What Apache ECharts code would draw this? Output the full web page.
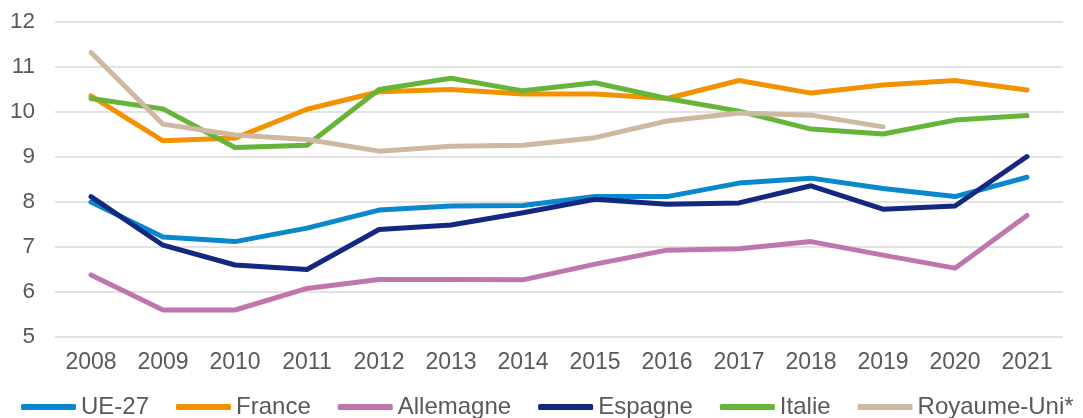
<!DOCTYPE html>
<html>
<head>
<meta charset="utf-8">
<script src="https://cdn.jsdelivr.net/npm/echarts@6/dist/echarts.min.js"></script>
<style>html,body{margin:0;padding:0;background:#fff}#c{width:1083px;height:418px}</style>
</head>
<body>
<div id="c"></div>
<script>
const years = ['2008','2009','2010','2011','2012','2013','2014','2015','2016','2017','2018','2019','2020','2021'];
const ue27 = [8.0, 7.22, 7.12, 7.42, 7.82, 7.91, 7.92, 8.12, 8.12, 8.42, 8.53, 8.3, 8.12, 8.55];
const france = [10.36, 9.36, 9.42, 10.06, 10.45, 10.5, 10.4, 10.4, 10.3, 10.7, 10.42, 10.6, 10.7, 10.49];
const allemagne = [6.38, 5.6, 5.6, 6.08, 6.28, 6.28, 6.27, 6.62, 6.93, 6.96, 7.12, 6.82, 6.53, 7.7];
const espagne = [8.12, 7.04, 6.6, 6.5, 7.39, 7.49, 7.76, 8.06, 7.95, 7.98, 8.36, 7.84, 7.91, 9.01];
const italie = [10.3, 10.07, 9.21, 9.26, 10.5, 10.75, 10.47, 10.65, 10.3, 10.02, 9.62, 9.51, 9.82, 9.92];
const royaumeUni = [11.32, 9.73, 9.49, 9.39, 9.13, 9.24, 9.26, 9.43, 9.8, 9.98, 9.93, 9.67, null, null];

const names = ['UE-27','France','Allemagne','Espagne','Italie','Royaume-Uni*'];
const datas = [ue27, france, allemagne, espagne, italie, royaumeUni];
const colors = ['#0a88cd','#f39200','#c076ad','#15287f','#67b43a','#cdb9a1'];

const chart = echarts.init(document.getElementById('c'), null, {renderer:'canvas'});
chart.setOption({
  animation: false,
  color: colors,
  textStyle: {fontFamily: 'Liberation Sans, Arial, sans-serif'},
  grid: {left: 55, right: 20, top: 22, bottom: 81, containLabel: false},
  legend: {
    top: 395, left: 21, padding: 0,
    itemWidth: 55, itemHeight: 6, itemGap: 27,
    icon: 'roundRect',
    textStyle: {fontSize: 24, color: '#595959'},
    data: names
  },
  xAxis: {
    type: 'category', data: years, boundaryGap: true,
    axisLine: {show: false}, axisTick: {show: false},
    axisLabel: {fontSize: 23, color: '#595959', margin: 14}
  },
  yAxis: {
    type: 'value', min: 5, max: 12, interval: 1,
    axisLine: {show: false}, axisTick: {show: false},
    axisLabel: {fontSize: 22.5, color: '#595959', margin: 20},
    splitLine: {lineStyle: {color: '#d9d9d9', width: 1.5}}
  },
  series: names.map((n, i) => ({
    name: n, type: 'line', data: datas[i], symbol: 'none',
    lineStyle: {width: 5, cap: 'round', join: 'round'},
    connectNulls: false
  }))
});
</script>
</body>
</html>
